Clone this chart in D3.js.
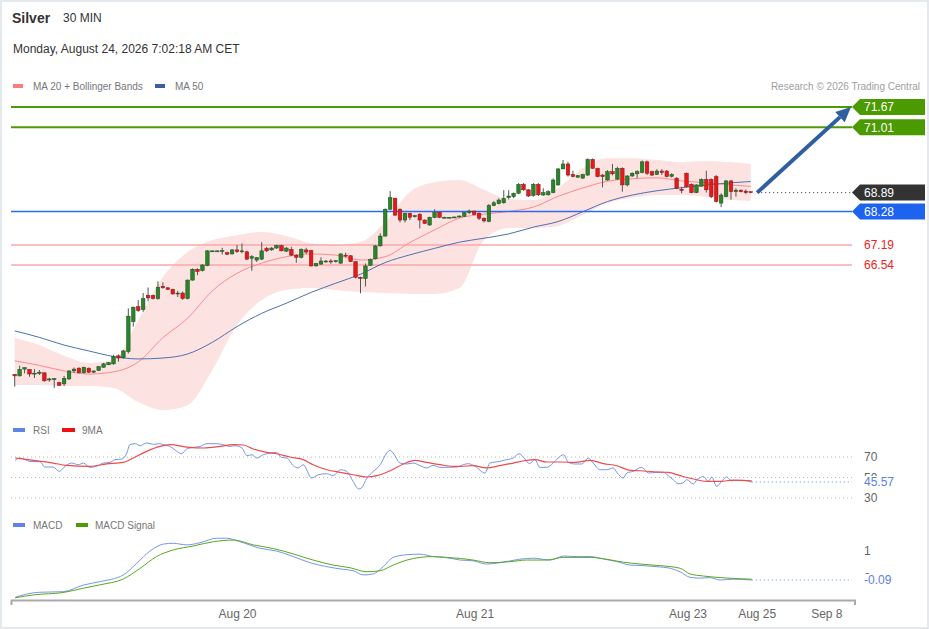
<!DOCTYPE html>
<html><head><meta charset="utf-8">
<script src="https://cdn.jsdelivr.net/npm/d3@7"></script>
<style>
html,body{margin:0;padding:0;background:#fff;}
svg{display:block;font-family:Arial,"Liberation Sans",sans-serif;}
</style></head><body>
<svg id="chart" width="929" height="629"></svg>
<script>
// ---------- DATA ----------
const title = "Silver";
const timeframe = "30 MIN";
const dateText = "Monday, August 24, 2026 7:02:18 AM CET";
// 30-min candles [open, high, low, close], index = candle number
const ohlc = [
[62.99,63.00,62.59,62.94],[62.94,63.27,62.92,63.15],[63.16,63.21,63.02,63.21],[63.15,63.16,62.91,63.00],
[63.01,63.16,62.87,63.03],[63.02,63.13,62.97,63.06],[63.04,63.05,62.75,62.78],[62.83,62.88,62.75,62.84],
[62.84,62.87,62.55,62.85],[62.72,62.75,62.61,62.63],[62.68,62.94,62.61,62.86],[62.84,63.13,62.81,63.10],
[63.10,63.21,63.04,63.16],[63.19,63.22,63.02,63.04],[63.04,63.24,63.02,63.22],[63.19,63.21,63.03,63.06],
[63.06,63.12,63.03,63.10],[63.11,63.26,63.10,63.24],[63.22,63.36,63.21,63.33],[63.30,63.39,63.29,63.37],
[63.33,63.62,63.30,63.56],[63.59,63.64,63.40,63.52],[63.53,63.78,63.49,63.75],[63.73,65.13,63.67,64.88],
[64.70,65.19,64.54,65.17],[65.19,65.40,65.02,65.06],[65.09,65.63,65.02,65.45],[65.56,65.81,65.36,65.47],
[65.55,65.58,65.42,65.45],[65.45,66.01,65.41,65.82],[65.85,65.98,65.77,65.80],[65.80,65.82,65.73,65.75],
[65.75,65.77,65.58,65.60],[65.60,65.70,65.50,65.63],[65.63,65.68,65.41,65.45],[65.45,66.07,65.42,66.05],
[66.05,66.43,66.03,66.40],[66.40,66.43,66.21,66.33],[66.36,66.57,66.33,66.54],[66.52,67.02,66.50,67.00],
[67.00,67.01,66.99,67.00],[67.00,67.01,66.99,67.00],[67.00,67.10,66.88,67.01],[66.94,66.97,66.86,66.89],
[66.90,67.06,66.88,67.03],[67.03,67.19,66.93,66.98],[66.98,67.24,66.92,67.00],[66.97,67.00,66.70,66.73],
[66.76,66.86,66.35,66.81],[66.70,66.80,66.64,66.78],[66.73,67.28,66.70,67.00],[67.08,67.13,66.96,67.00],
[67.03,67.12,67.00,67.09],[67.09,67.20,67.07,67.17],[67.17,67.20,66.98,67.00],[66.99,67.12,66.96,67.09],
[67.05,67.13,66.83,66.86],[66.86,66.89,66.61,66.79],[66.79,67.08,66.75,67.05],[67.03,67.10,66.90,66.96],
[67.01,67.03,66.49,66.51],[66.51,66.61,66.49,66.59],[66.57,66.79,66.54,66.67],[66.65,66.70,66.62,66.67],
[66.67,66.73,66.58,66.66],[66.65,66.70,66.62,66.68],[66.60,66.92,66.57,66.90],[66.86,66.94,66.79,66.84],
[66.84,66.86,66.64,66.65],[66.65,66.66,66.11,66.14],[66.14,66.16,65.62,66.10],[66.10,66.59,65.84,66.51],
[66.53,66.75,66.51,66.72],[66.74,67.19,66.72,67.16],[67.16,67.57,67.14,67.48],[67.48,68.38,67.46,68.35],
[68.35,68.94,68.32,68.73],[68.71,68.72,68.13,68.16],[68.35,68.38,67.92,68.00],[68.00,68.24,67.92,68.22],
[68.22,68.24,68.00,68.09],[68.11,68.17,68.08,68.14],[68.19,68.22,67.73,68.00],[68.00,68.02,67.87,67.89],
[67.84,68.11,67.81,68.09],[68.08,68.35,68.06,68.25],[68.25,68.27,68.06,68.09],[68.09,68.11,68.07,68.09],
[68.09,68.10,68.08,68.09],[68.09,68.11,68.08,68.10],[68.10,68.15,68.08,68.13],[68.12,68.26,68.10,68.24],
[68.24,68.34,68.19,68.29],[68.29,68.31,68.16,68.18],[68.22,68.25,68.00,68.06],[68.06,68.08,67.92,67.97],
[67.95,68.52,67.93,68.47],[68.47,68.62,68.45,68.56],[68.53,68.70,68.51,68.65],[68.56,68.97,68.53,68.70],
[68.73,68.97,68.67,68.78],[68.76,68.89,68.71,68.87],[68.87,69.20,68.84,69.16],[69.16,69.20,68.95,68.98],
[68.98,69.00,68.75,68.78],[68.80,69.20,68.76,69.16],[69.16,69.20,68.78,68.82],[68.81,69.03,68.79,68.89],
[68.82,68.97,68.79,68.92],[68.89,69.35,68.87,69.30],[69.14,69.68,69.11,69.66],[69.66,69.95,69.65,69.82],
[69.82,69.89,69.41,69.46],[69.48,69.60,69.39,69.41],[69.39,69.46,69.37,69.44],[69.36,69.50,69.34,69.48],
[69.46,70.00,69.43,69.97],[69.97,70.00,69.66,69.68],[69.68,69.70,69.39,69.41],[69.46,69.49,69.06,69.41],
[69.30,69.62,69.28,69.57],[69.57,69.82,69.45,69.50],[69.33,69.73,69.30,69.68],[69.68,69.71,68.92,69.14],
[69.14,69.46,69.09,69.43],[69.43,69.55,69.40,69.52],[69.50,69.62,69.36,69.57],[69.54,69.93,69.52,69.89],
[69.89,69.93,69.46,69.52],[69.57,69.60,69.43,69.46],[69.48,69.65,69.46,69.59],[69.59,69.65,69.46,69.54],
[69.59,69.62,69.39,69.41],[69.42,69.52,69.38,69.48],[69.36,69.39,69.00,69.03],[69.00,69.08,68.87,68.96],
[69.52,69.54,69.06,69.08],[69.16,69.19,68.87,68.89],[68.89,69.16,68.87,69.14],[69.10,69.35,69.08,69.32],
[69.32,69.60,68.89,68.98],[69.32,69.35,68.71,68.76],[69.41,69.46,68.57,68.60],[68.55,68.87,68.42,68.81],
[68.76,69.30,68.74,69.27],[69.27,69.30,68.66,68.92],[68.92,69.03,68.76,68.97],[68.97,68.99,68.90,68.92],
[68.94,68.99,68.84,68.89],[68.92,68.93,68.87,68.89]
];
// indicator samples (candle index -> value)
const bandIdx = [0,5,10,15,20,25,30,35,40,45,50,55,60,65,70,75,80,85,90,95,100,105,110,115,120,125,130,135,140,145,149];
const bbUpper = [64.17,63.94,63.59,63.36,63.46,64.75,66.15,66.96,67.35,67.51,67.61,67.48,67.25,67.19,67.29,67.94,68.91,69.23,69.30,68.98,68.68,68.65,69.04,69.69,70.01,70.01,69.95,69.88,69.92,69.88,69.82];
const bbLower = [62.64,62.64,62.61,62.61,62.55,62.09,61.83,61.99,63.13,64.59,65.40,65.73,65.79,65.73,65.66,65.63,65.60,65.60,65.79,67.35,67.74,67.74,67.81,68.16,68.55,68.72,68.81,68.81,68.75,68.65,68.62];
const ma20 = [63.43,63.28,63.10,63.00,63.07,63.39,64.18,64.81,65.70,66.27,66.60,66.81,66.90,66.86,66.70,66.81,67.27,67.68,68.06,68.19,68.28,68.42,68.77,69.04,69.26,69.34,69.37,69.27,69.21,69.14,69.09];
const ma50 = [64.40,64.19,63.94,63.75,63.57,63.49,63.52,63.65,64.03,64.54,64.97,65.30,65.65,65.95,66.24,66.62,66.87,67.08,67.28,67.41,67.55,67.77,67.95,68.27,68.60,68.81,68.95,69.05,69.14,69.21,69.25];

const rsiIdx = [0.1,1.1,3.1,5.1,6.1,7.8,9.0,10.2,11.5,12.9,13.9,15.2,16.6,17.9,19.3,20.3,21.7,22.7,23.3,24.4,25.4,26.7,28.1,29.1,30.4,31.4,32.4,33.8,34.8,36.2,37.5,38.9,40.9,42.2,43.6,44.6,46.0,47.0,48.0,49.0,50.3,51.7,53.0,54.0,55.1,56.4,57.4,58.4,60.1,61.5,63.2,64.5,65.9,67.2,68.5,69.6,70.2,71.3,72.6,74.0,75.3,76.0,76.6,78.0,79.4,80.7,82.1,83.4,84.7,86.1,87.8,89.5,90.8,91.8,93.2,95.2,96.2,98.2,99.6,100.9,102.1,103.3,104.2,105.3,106.3,107.7,109.0,110.0,111.1,112.1,113.4,114.8,116.1,117.1,118.5,119.8,121.2,121.9,123.2,123.9,125.2,126.9,128.3,130.0,131.3,132.3,133.3,134.3,135.3,136.0,137.4,138.1,138.7,139.4,140.4,141.1,142.1,143.1,144.1,145.1,146.2,147.5,149.2];
const rsiVal = [66.7,69.0,65.7,65.4,60.2,60.2,56.0,60.9,64.1,62.5,64.1,59.9,60.9,64.1,64.7,67.4,68.0,73.9,82.0,83.0,81.0,83.7,82.3,83.0,81.7,80.3,77.1,73.2,77.8,79.4,80.3,83.0,83.0,82.0,80.3,81.0,78.8,71.3,72.2,69.0,72.2,73.9,74.5,69.6,69.0,61.5,59.3,62.5,49.5,52.7,53.7,51.8,57.6,56.0,46.2,38.8,39.8,49.5,56.0,62.5,73.9,76.5,73.9,64.1,63.2,64.1,61.5,59.3,61.8,59.9,59.9,60.2,62.5,63.5,60.9,54.4,64.1,65.7,67.4,69.0,73.2,68.0,63.5,67.4,59.9,59.9,64.1,69.0,72.2,64.7,63.2,63.2,69.0,64.1,57.6,57.6,59.3,55.0,49.5,54.4,56.0,59.9,54.4,55.0,55.0,51.8,47.9,44.0,44.7,47.9,43.7,47.9,49.5,51.1,46.2,50.5,41.3,46.2,50.5,46.8,47.2,47.2,45.57];
const rsiMaIdx = [0.1,3.8,7.8,10.5,15.2,18.6,22.0,24.0,26.7,29.4,31.4,34.8,38.2,41.6,44.3,46.3,48.3,51.0,53.0,55.7,58.4,60.4,63.2,65.9,68.5,71.3,73.3,76.0,78.7,81.0,83.4,86.1,88.8,90.2,92.8,95.5,98.2,100.9,103.6,105.3,107.7,110.4,113.4,116.5,119.2,121.9,124.6,126.6,129.3,132.3,134.7,137.4,140.1,142.8,145.5,149.2];
const rsiMaVal = [69.0,66.7,64.1,61.8,60.9,63.2,64.7,69.0,75.5,80.3,82.0,79.7,78.8,80.3,82.0,81.7,77.8,74.5,73.2,70.0,67.4,62.5,57.6,55.0,52.7,50.5,51.8,56.6,63.2,66.7,64.7,62.5,60.9,60.9,61.5,59.3,61.5,64.1,66.7,67.4,65.1,65.1,64.7,66.7,63.5,61.5,56.9,56.6,55.6,55.0,51.8,48.5,46.2,46.2,47.5,46.8];
const macdIdx = [0.1,2.4,5.1,9.8,13.9,17.3,22.0,24.7,27.4,30.1,32.1,34.8,37.5,40.9,42.9,45.6,49.7,53.0,56.4,59.8,63.2,66.5,68.5,70.6,72.6,74.6,76.6,79.4,82.1,84.7,87.4,90.2,92.8,95.5,98.2,102.2,105.0,108.4,111.1,113.8,116.5,119.2,121.9,124.6,127.2,130.0,132.7,134.7,136.7,138.7,140.7,142.8,145.5,149.2];
const macdVal = [-0.74,-0.62,-0.55,-0.53,-0.28,-0.15,0.10,0.54,1.00,1.26,1.29,1.23,1.31,1.48,1.48,1.35,1.10,1.00,0.79,0.56,0.41,0.31,0.26,0.10,0.14,0.41,0.76,0.86,0.88,0.79,0.75,0.66,0.63,0.51,0.56,0.69,0.73,0.66,0.81,0.79,0.79,0.70,0.60,0.47,0.45,0.41,0.35,0.22,0.01,-0.02,0.00,-0.09,-0.06,-0.09];
const sigIdx = [0.1,3.8,9.8,13.9,17.3,22.0,25.4,28.7,32.1,36.2,40.2,44.3,48.3,52.4,56.4,60.4,64.5,67.9,71.3,74.0,76.6,79.4,82.1,84.7,87.4,90.2,92.8,96.2,100.3,103.6,107.7,111.1,116.5,119.8,123.2,126.6,130.6,134.7,136.7,139.4,142.8,146.2,149.2];
const sigVal = [-0.76,-0.65,-0.56,-0.40,-0.27,-0.05,0.35,0.79,1.04,1.19,1.35,1.41,1.23,1.09,0.89,0.66,0.47,0.37,0.22,0.26,0.47,0.66,0.76,0.79,0.76,0.72,0.66,0.56,0.60,0.66,0.66,0.76,0.76,0.69,0.58,0.51,0.45,0.35,0.14,0.06,0.00,-0.04,-0.06];

const resistance = [71.67, 71.01];
const pivot = 68.28;
const support = [67.19, 66.54];
const lastPrice = 68.89;
const lastRsi = 45.57;
const lastMacd = -0.09;
const rsiLevels = [70, 50, 30];
const macdLevels = [1, 0];
const arrowFrom = [150.3, 68.89];
const arrowTo = [169.3, 71.67];
const tickIdx = [45.0, 93.1, 136.2, 150.2, 164.3];
const tickLabels = ["Aug 20", "Aug 21", "Aug 23", "Aug 25", "Sep 8"];

// ---------- SCALES ----------
const svg = d3.select('#chart');
const x = d3.scaleLinear().domain([-0.75, 170]).range([11, 854.5]);
const y = d3.scaleLinear().domain([66.54, 71.67]).range([265, 107]);
const yR = d3.scaleLinear().domain([30, 70]).range([498, 457]);
const yM = d3.scaleLinear().domain([-0.09, 1]).range([580, 551]);
const xEnd = 852;

// border
svg.append('rect').attr('x',1).attr('y',1).attr('width',927).attr('height',627)
  .attr('fill','#fff').attr('stroke','#e4e9ee').attr('stroke-width',2);

// header
svg.append('text').attr('x',12).attr('y',23).attr('font-size',14).attr('font-weight','bold').attr('fill','#333').text(title);
svg.append('text').attr('x',63).attr('y',22).attr('font-size',12).attr('fill','#333').text(timeframe);
svg.append('text').attr('x',13).attr('y',53).attr('font-size',12).attr('fill','#333').text(dateText);

function legend(items, yy){
  items.forEach(it=>{
    svg.append('rect').attr('x',it.sx).attr('y',yy-6).attr('width',it.sw).attr('height',4).attr('fill',it.c);
    svg.append('text').attr('x',it.tx).attr('y',yy).attr('font-size',10).attr('fill','#777').text(it.t);
  });
}
legend([{sx:13,sw:10,c:'#ff7b7b',tx:33,t:'MA 20 + Bollinger Bands'},{sx:155,sw:10,c:'#3b5ea0',tx:175,t:'MA 50'}], 90);
svg.append('text').attr('x',920).attr('y',90).attr('text-anchor','end').attr('font-size',10).attr('fill','#a0a0a0').text('Research © 2026 Trading Central');
legend([{sx:13,sw:12,c:'#5d84e6',tx:33,t:'RSI'},{sx:62,sw:13,c:'#f01010',tx:82,t:'9MA'}], 434);
legend([{sx:13,sw:12,c:'#5d84e6',tx:33,t:'MACD'},{sx:76,sw:12,c:'#4a9d00',tx:95,t:'MACD Signal'}], 529);

// ---------- MAIN PANEL ----------
const area = d3.area().x((d,i)=>x(bandIdx[i])).y0((d,i)=>y(bbLower[i])).y1((d,i)=>y(bbUpper[i])).curve(d3.curveMonotoneX);
svg.append('path').datum(bandIdx).attr('d',area).attr('fill','#fde2e2');

function hline(v, color, w){
  svg.append('line').attr('x1',11).attr('x2',xEnd).attr('y1',y(v)).attr('y2',y(v)).attr('stroke',color).attr('stroke-width',w);
}
support.forEach(v=>hline(v,'#f8a8a8',1.6));
resistance.forEach(v=>hline(v,'#4c9a06',2));

const line = (arrI, arrV, sc) => d3.line().x((d,i)=>x(arrI[i])).y((d,i)=>sc(arrV[i])).curve(d3.curveMonotoneX)(arrI);
svg.append('path').attr('d',line(bandIdx,ma20,y)).attr('fill','none').attr('stroke','#ff8a8a').attr('stroke-width',1);
svg.append('path').attr('d',line(bandIdx,ma50,y)).attr('fill','none').attr('stroke','#4e70b0').attr('stroke-width',1);

hline(pivot,'#2a6cf0',1.5);

// candles
const cw = 3.6;
const cg = svg.append('g');
ohlc.forEach((d,i)=>{
  const [o,h,l,c] = d;
  const cx = x(i);
  const up = c >= o;
  cg.append('line').attr('x1',cx).attr('x2',cx).attr('y1',y(h)).attr('y2',y(l)).attr('stroke','#555').attr('stroke-width',1);
  const top = y(Math.max(o,c)), bot = y(Math.min(o,c));
  cg.append('rect').attr('x',cx-cw/2).attr('y',top).attr('width',cw).attr('height',Math.max(1,bot-top))
    .attr('fill', up ? '#2a842a' : '#e81818').attr('stroke', up ? '#1d4f1d' : '#7a1f1f').attr('stroke-width',0.5);
});

// last price dotted
svg.append('line').attr('x1',x(arrowFrom[0])).attr('x2',xEnd).attr('y1',y(lastPrice)).attr('y2',y(lastPrice))
  .attr('stroke','#333').attr('stroke-dasharray','1,3').attr('stroke-width',1);

// arrow
{
  const x1=x(arrowFrom[0]), y1=y(arrowFrom[1]), x2=x(arrowTo[0]), y2=y(arrowTo[1]);
  const ang = Math.atan2(y2-y1, x2-x1);
  const hl = 15, hw = 7;
  const bx = x2 - hl*Math.cos(ang), by = y2 - hl*Math.sin(ang);
  svg.append('line').attr('x1',x1).attr('y1',y1).attr('x2',bx).attr('y2',by).attr('stroke','#2f5f9f').attr('stroke-width',4);
  const p = [[x2,y2],[bx + hw*Math.sin(ang), by - hw*Math.cos(ang)],[bx - hw*Math.sin(ang), by + hw*Math.cos(ang)]];
  svg.append('path').attr('d','M'+p.map(q=>q.join(',')).join('L')+'Z').attr('fill','#2f5f9f');
}

// price tags
function tag(v, fill){
  const yy = y(v);
  svg.append('path').attr('d',`M${xEnd},${yy} L${xEnd+8},${yy-8} L925,${yy-8} L925,${yy+8} L${xEnd+8},${yy+8} Z`).attr('fill',fill);
  svg.append('text').attr('x',864).attr('y',yy).attr('dy','0.36em').attr('font-size',12).attr('fill','#fff').text(v.toFixed(2));
}
resistance.forEach(v=>tag(v,'#4a9a00'));
tag(lastPrice,'#333333');
tag(pivot,'#1e62f0');
support.forEach(v=>{
  svg.append('text').attr('x',864).attr('y',y(v)).attr('dy','0.36em').attr('font-size',12).attr('fill','#ee2222').text(v.toFixed(2));
});

// ---------- RSI PANEL ----------
rsiLevels.forEach(v=>{
  svg.append('line').attr('x1',11).attr('x2',xEnd).attr('y1',yR(v)).attr('y2',yR(v)).attr('stroke','#bbb').attr('stroke-dasharray','1,3');
  svg.append('text').attr('x',864).attr('y',yR(v)).attr('dy','0.36em').attr('font-size',12).attr('fill','#666').text(v);
});
svg.append('path').attr('d',line(rsiIdx,rsiVal,yR)).attr('fill','none').attr('stroke','#7596e8').attr('stroke-width',1);
svg.append('path').attr('d',line(rsiMaIdx,rsiMaVal,yR)).attr('fill','none').attr('stroke','#f04a4a').attr('stroke-width',1.2);
svg.append('line').attr('x1',x(rsiIdx[rsiIdx.length-1])).attr('x2',xEnd).attr('y1',yR(lastRsi)).attr('y2',yR(lastRsi))
  .attr('stroke','#5b80e6').attr('stroke-dasharray','1,3');
svg.append('rect').attr('x',862).attr('y',yR(lastRsi)-6).attr('width',34).attr('height',13).attr('fill','#fff');
svg.append('text').attr('x',864).attr('y',yR(lastRsi)).attr('dy','0.36em').attr('font-size',12).attr('fill','#5b80e6').text(lastRsi.toFixed(2));

// ---------- MACD PANEL ----------
macdLevels.forEach(v=>{
  svg.append('text').attr('x',864).attr('y',yM(v)).attr('dy','0.36em').attr('font-size',12).attr('fill','#666').text(v);
});
svg.append('path').attr('d',line(macdIdx,macdVal,yM)).attr('fill','none').attr('stroke','#7596e8').attr('stroke-width',1);
svg.append('path').attr('d',line(sigIdx,sigVal,yM)).attr('fill','none').attr('stroke','#5aa71e').attr('stroke-width',1);
svg.append('line').attr('x1',x(macdIdx[macdIdx.length-1])).attr('x2',xEnd).attr('y1',yM(lastMacd)).attr('y2',yM(lastMacd))
  .attr('stroke','#5b80e6').attr('stroke-dasharray','1,3');
svg.append('rect').attr('x',862).attr('y',yM(lastMacd)-6).attr('width',34).attr('height',13).attr('fill','#fff');
svg.append('text').attr('x',864).attr('y',yM(lastMacd)).attr('dy','0.36em').attr('font-size',12).attr('fill','#5b80e6').text(lastMacd.toFixed(2));

// ---------- X AXIS ----------
const ax = d3.axisBottom(x).tickValues(tickIdx).tickFormat((d,i)=>tickLabels[i]).tickSizeInner(0).tickSizeOuter(5).tickPadding(9);
const axG = svg.append('g').attr('transform','translate(0,600)').call(ax);
axG.select('.domain').attr('stroke','#aaa').attr('stroke-width',2);
axG.selectAll('text').attr('font-size',12).attr('fill','#666').attr('font-family','Arial,"Liberation Sans",sans-serif');
</script>
</body></html>
